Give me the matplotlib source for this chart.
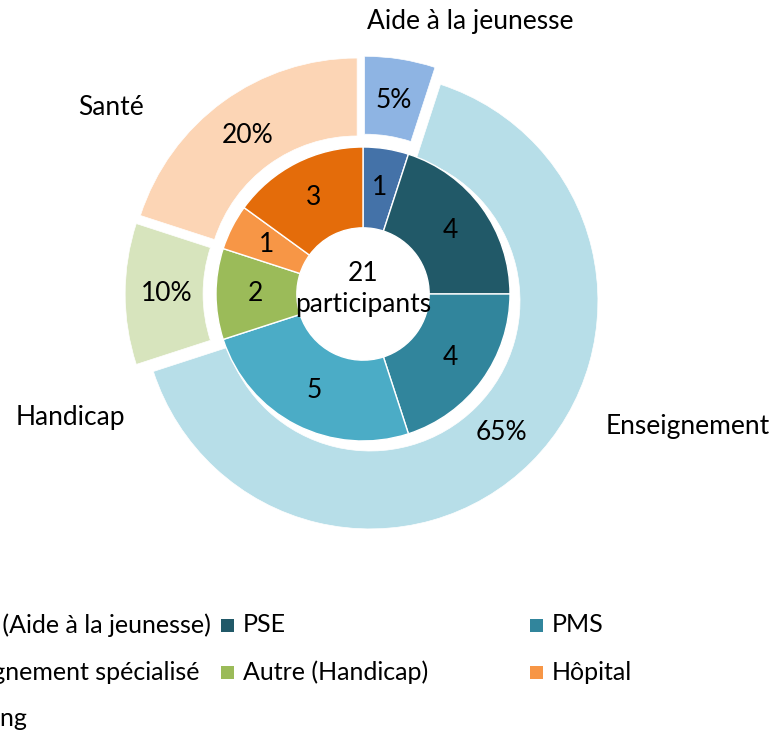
import matplotlib
matplotlib.use('Agg')
import matplotlib.pyplot as plt
from matplotlib.patches import Rectangle

plt.rcParams['font.family'] = ['Lato', 'DejaVu Sans']

# ---- data ----
outer_labels = ['Aide à la jeunesse', 'Enseignement', 'Handicap', 'Santé']
outer_values = [5, 65, 10, 20]
outer_colors = ['#8EB4E3', '#B7DEE8', '#D7E4BD', '#FCD5B5']

inner_labels = ['Autre (Aide à la jeunesse)', 'PSE', 'PMS', 'Enseignement spécialisé',
                'Autre (Handicap)', 'Hôpital', 'Planning']
inner_values = [1, 4, 4, 5, 2, 1, 3]
inner_colors = ['#4472A8', '#215968', '#31859C', '#4BACC6', '#9BBB59', '#F79646', '#E46C0A']
total_participants = 21

# ---- layout ----
W, H = 777, 733
FS = 19
FS_LEG = 18
fig = plt.figure(figsize=(W / 100, H / 100), dpi=100)
ax = fig.add_axes([0, 0, 1, 1])
cx, cy = 363, 294
unit = 147.0

R_out = 1.55
R_in_outer = 1.02
hole = 0.45
expl = 0.068

ax.pie(outer_values, radius=R_out, startangle=90, counterclock=False,
       colors=outer_colors, explode=[expl] * len(outer_values),
       wedgeprops=dict(width=R_out - R_in_outer, edgecolor='white', linewidth=0.5),
       autopct=lambda p: f'{p:.0f}%', pctdistance=0.818,
       textprops=dict(fontsize=FS, color='black'))

inner_total = sum(inner_values)
ax.pie(inner_values, radius=1.0, startangle=90, counterclock=False,
       colors=inner_colors,
       wedgeprops=dict(width=1 - hole, edgecolor='white', linewidth=1),
       autopct=lambda p: f'{p * inner_total / 100:.0f}', pctdistance=0.735,
       textprops=dict(fontsize=FS, color='black'))

ax.set_xlim(-cx / unit, (W - cx) / unit)
ax.set_ylim(-(H - cy) / unit, cy / unit)
ax.set_aspect('equal')
ax.axis('off')

# category labels (pixel positions)
cat_pos = [(470, 22), (688, 427), (70, 418), (111, 108)]
for lab, (px, py) in zip(outer_labels, cat_pos):
    ax.text((px - cx) / unit, (cy - py) / unit, lab, ha='center', va='center', fontsize=FS)

ax.text(0, (cy - 289) / unit, f'{total_participants}\nparticipants', ha='center', va='center',
        fontsize=FS, linespacing=1.3)

# legend (manual grid, 3 columns)
for i, (lab, col) in enumerate(zip(inner_labels, inner_colors)):
    r, c = divmod(i, 3)
    mx = -88 + c * 309
    my = 625 + r * 47
    fig.add_artist(Rectangle((mx / W, 1 - (my + 6.5) / H), 13 / W, 13 / H,
                             transform=fig.transFigure, facecolor=col, edgecolor='none'))
    fig.text((mx + 22) / W, 1 - my / H, lab, ha='left', va='center', fontsize=FS_LEG)

fig.savefig('out.png', dpi=100)
